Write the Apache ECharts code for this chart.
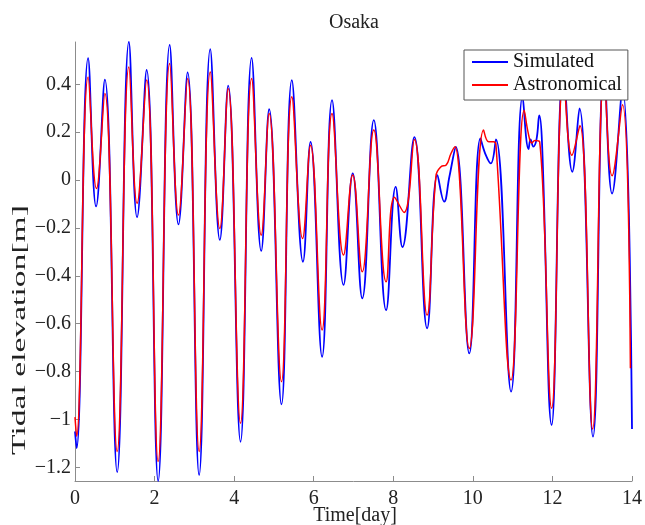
<!DOCTYPE html>
<html>
<head>
<meta charset="utf-8">
<script src="https://cdn.jsdelivr.net/npm/echarts@6/dist/echarts.min.js"></script>
<style>
html,body{margin:0;padding:0;background:#fff;}
#chart{width:645px;height:525px;}
</style>
</head>
<body>
<div id="chart"></div>
<script>
// Simulated (blue) – time [day] and elevation [m] read at turning points
var simT = [0,0.04,0.33,0.53,0.75,1.06,1.355,1.56,1.80,2.09,2.38,2.60,2.83,3.12,3.40,3.64,3.85,4.16,4.44,4.68,4.88,5.19,5.45,5.73,5.92,6.21,6.46,6.75,6.98,7.22,7.51,7.82,8.06,8.23,8.53,8.85,9.11,9.28,9.41,9.57,9.91,10.19,10.31,10.45,10.58,10.96,11.25,11.40,11.45,11.52,11.60,11.67,11.74,11.98,12.28,12.50,12.68,13.02,13.30,13.50,13.76,14.00];
var simV = [-1.05,-1.12,0.51,-0.11,0.42,-1.22,0.577,-0.155,0.46,-1.257,0.565,-0.185,0.45,-1.232,0.547,-0.25,0.395,-1.093,0.511,-0.296,0.296,-0.937,0.418,-0.341,0.16,-0.738,0.334,-0.438,0.028,-0.494,0.251,-0.543,-0.028,-0.28,0.18,-0.619,0.021,-0.09,0.014,0.139,-0.724,0.174,0.111,0.07,0.17,-0.884,0.35,0.13,0.17,0.14,0.17,0.27,0.15,-1.023,0.47,0.035,0.30,-1.072,0.48,-0.056,0.38,-1.04];

// Astronomical (red)
var astT = [0,0.04,0.33,0.54,0.75,1.06,1.355,1.56,1.80,2.09,2.38,2.60,2.83,3.12,3.40,3.64,3.85,4.16,4.44,4.68,4.88,5.19,5.45,5.72,5.92,6.21,6.46,6.75,6.98,7.22,7.51,7.82,8.03,8.27,8.53,8.85,9.07,9.20,9.33,9.45,9.55,9.91,10.27,10.40,10.52,10.58,10.96,11.29,11.40,11.48,11.56,11.68,11.98,12.28,12.49,12.69,13.01,13.30,13.50,13.76,13.96];
var astV = [-0.99,-1.07,0.431,-0.035,0.362,-1.134,0.473,-0.097,0.418,-1.176,0.487,-0.146,0.425,-1.134,0.452,-0.202,0.383,-1.016,0.425,-0.23,0.278,-0.842,0.348,-0.244,0.146,-0.626,0.278,-0.313,0.021,-0.383,0.209,-0.425,-0.072,-0.135,0.17,-0.564,0.014,0.056,0.063,0.111,0.139,-0.703,0.209,0.16,0.16,0.15,-0.835,0.292,0.19,0.155,0.165,0.16,-0.953,0.44,0.104,0.228,-1.04,0.44,0.018,0.315,-0.786];

var xTicks = [0,2,4,6,8,10,12,14];
var yTicks = [-1.2,-1,-0.8,-0.6,-0.4,-0.2,0,0.2,0.4];
var seriesNames = ['Simulated','Astronomical'];
var titleText = 'Osaka';
var xName = 'Time[day]';
var yName = 'Tidal elevation[m]';

function pairs(t, v){ var out=[]; for(var i=0;i<t.length;i++){ out.push([t[i], v[i]]); } return out; }

var FONT = 'Liberation Serif';
var axisGrey = '#8c8c8c';

var chart = echarts.init(document.getElementById('chart'), null, {renderer:'canvas'});
chart.setOption({
  backgroundColor:'#fff',
  animation:false,
  grid:{left:75, right:12, top:42, bottom:44, containLabel:false},
  xAxis:{
    type:'value', min:0, max:14, interval:2,
    axisLine:{show:true, onZero:false, lineStyle:{color:axisGrey, width:1}},
    axisTick:{show:true, inside:true, length:5, lineStyle:{color:axisGrey}},
    splitLine:{show:false},
    axisLabel:{customValues:xTicks, margin:8, color:'#222', fontFamily:FONT, fontSize:20}
  },
  yAxis:{
    type:'value', min:-1.257, max:0.577,
    axisLine:{show:true, onZero:false, lineStyle:{color:axisGrey, width:1}},
    axisTick:{show:true, inside:true, length:5, customValues:yTicks, lineStyle:{color:axisGrey}},
    splitLine:{show:false},
    axisLabel:{customValues:yTicks, margin:4, color:'#222', fontFamily:FONT, fontSize:20,
      formatter:function(v){ var s = String(Math.round(v*10)/10); return s.replace('-', '\u2212'); }}
  },
  legend:{
    orient:'vertical', left:464, top:50,
    backgroundColor:'#fff', borderColor:'#555', borderWidth:1,
    padding:[2,6,5,8], itemGap:3, itemWidth:36, itemHeight:2, icon:'rect',
    textStyle:{fontFamily:FONT, fontSize:20, color:'#111', lineHeight:20},
    data:seriesNames, z:10
  },
  graphic:[
    {type:'text', x:354, y:23, style:{text:titleText, font:'20px "Liberation Serif"', fill:'#222', textAlign:'center', textVerticalAlign:'middle'}},
    {type:'text', x:355, y:516, style:{text:xName, font:'20px "Liberation Serif"', fill:'#222', textAlign:'center', textVerticalAlign:'middle'}},
    {type:'text', x:20, y:330, rotation:Math.PI/2, scaleX:1.6, scaleY:0.9, style:{text:yName, font:'21px "Liberation Serif"', fill:'#222', textAlign:'center', textVerticalAlign:'middle'}}
  ],
  series:[
    {name:seriesNames[0], type:'line', data:pairs(simT, simV), showSymbol:false, symbol:'none', smooth:0.45, clip:true,
     lineStyle:{color:'#0000ff', width:1.8}, itemStyle:{color:'#0000ff'}},
    {name:seriesNames[1], type:'line', data:pairs(astT, astV), showSymbol:false, symbol:'none', smooth:0.45, clip:true,
     lineStyle:{color:'#ff0000', width:1.5}, itemStyle:{color:'#ff0000'}}
  ]
});
</script>
</body>
</html>
